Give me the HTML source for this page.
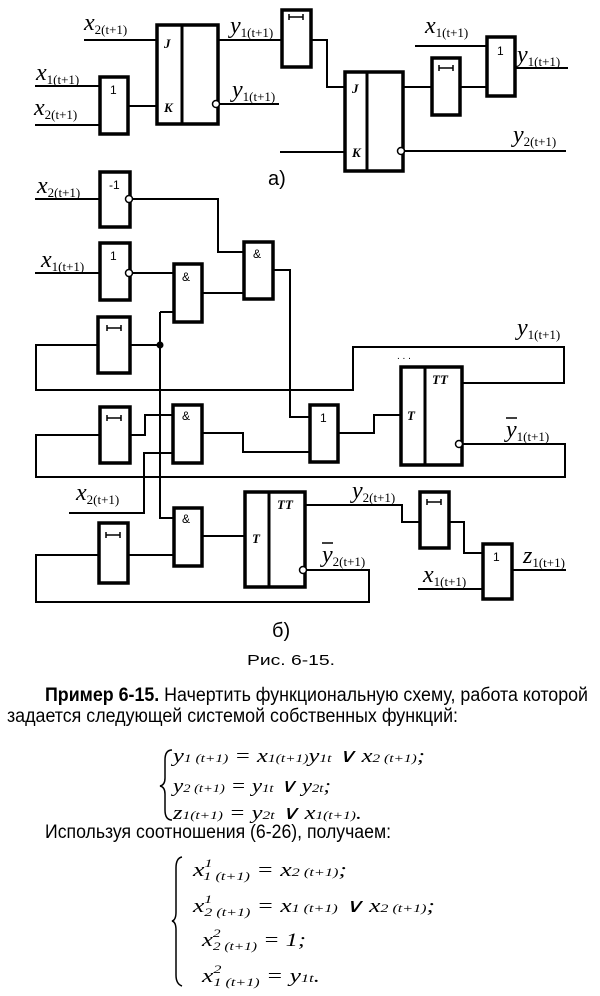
<!DOCTYPE html>
<html><head><meta charset="utf-8"><style>
html,body{margin:0;padding:0;background:#fff;}
svg{display:block}
.w{fill:none;stroke:#000;stroke-width:2}
.b{fill:#fff;stroke:#000;stroke-width:3.5}
.d{stroke:#000;stroke-width:2.5;fill:none}
.m{font-family:"Liberation Serif",serif;font-style:italic;font-size:24px}
.s{font-family:"Liberation Serif",serif;font-style:normal;font-size:13px}
.g{font-family:"Liberation Sans",sans-serif;font-size:12px}
.gi{font-family:"Liberation Serif",serif;font-style:italic;font-weight:bold;font-size:13px}
.t{font-family:"Liberation Sans",sans-serif;font-size:19px}
.e{font-family:"Liberation Serif",serif;font-style:italic;font-size:19px}
.es{font-family:"Liberation Serif",serif;font-style:italic;font-size:12px}
</style></head><body>
<svg width="600" height="996" viewBox="0 0 600 996" xmlns="http://www.w3.org/2000/svg">
<!-- ===== a) ===== -->
<path class="w" d="M84 40H157 M35 86H100 M35 125H100 M128 106H157 M218 40H282 M220 104H279 M311 40H327V87H345 M280 152H345 M405 151H566 M403 87H432 M460 87H487 M415 46H487 M515 68H568"/>
<rect class="b" x="157" y="25" width="61" height="99"/><line class="w" x1="182" y1="25" x2="182" y2="124" style="stroke-width:3"/>
<rect class="b" x="100" y="77" width="28" height="57"/>
<rect class="b" x="282" y="10" width="29" height="57"/>
<rect class="b" x="345" y="72" width="58" height="99"/><line class="w" x1="367" y1="72" x2="367" y2="171" style="stroke-width:3"/>
<rect class="b" x="432" y="58" width="28" height="57"/>
<rect class="b" x="487" y="37" width="28" height="59"/>
<circle cx="216" cy="104" r="3.5" fill="#fff" stroke="#000" stroke-width="1.5"/>
<circle cx="401" cy="151" r="3.5" fill="#fff" stroke="#000" stroke-width="1.5"/>
<text class="gi" x="164" y="48">J</text><text class="gi" x="164" y="112">K</text>
<text class="gi" x="352" y="93">J</text><text class="gi" x="352" y="157">K</text>
<text class="g" x="110" y="94">1</text><text class="g" x="497" y="55">1</text>
<path class="d" d="M289 17H303 M289 14V20 M303 14V20" style="stroke-width:1.5"/>
<path class="d" d="M439 68H453 M439 65V71 M453 65V71" style="stroke-width:1.5"/>
<text class="m" x="84" y="30">x<tspan class="s" dy="4">2(t+1)</tspan></text>
<text class="m" x="36" y="80">x<tspan class="s" dy="4">1(t+1)</tspan></text>
<text class="m" x="34" y="115">x<tspan class="s" dy="4">2(t+1)</tspan></text>
<text class="m" x="230" y="33">y<tspan class="s" dy="4">1(t+1)</tspan></text>
<text class="m" x="232" y="97">y<tspan class="s" dy="4">1(t+1)</tspan></text>
<text class="m" x="425" y="33">x<tspan class="s" dy="4">1(t+1)</tspan></text>
<text class="m" x="517" y="62">y<tspan class="s" dy="4">1(t+1)</tspan></text>
<text class="m" x="513" y="142">y<tspan class="s" dy="4">2(t+1)</tspan></text>
<text x="268" y="185" style="font-family:'Liberation Sans',sans-serif;font-size:20px">a)</text>
<!-- ===== б) ===== -->
<path class="w" d="M35 199H100 M132 199H218V252H244 M35 273H100 M132 273H174 M202 293H244 M273 270H290V417H310 M160 312H174 M130 345H160 M160 312V518H174 M100 345H36V390H353V347H564V383H462 M462 444H565V477H36V435H100 M130 435H145V415H173 M173 453H144V513H69 M202 433H243V452H310 M338 433H374V415H401 M99 555H36V602H369V570H306 M128 555H174 M202 536H245 M305 505H402V522H420 M449 522H464V553H483 M418 589H483 M512 570H566"/>
<rect class="b" x="100" y="172" width="30" height="55"/>
<rect class="b" x="100" y="243" width="30" height="57"/>
<rect class="b" x="174" y="264" width="28" height="58"/>
<rect class="b" x="244" y="242" width="29" height="57"/>
<rect class="b" x="98" y="317" width="32" height="56"/>
<rect class="b" x="401" y="367" width="61" height="98"/><line class="w" x1="425" y1="367" x2="425" y2="465" style="stroke-width:3"/>
<rect class="b" x="100" y="407" width="30" height="56"/>
<rect class="b" x="173" y="405" width="29" height="58"/>
<rect class="b" x="310" y="405" width="28" height="57"/>
<rect class="b" x="174" y="508" width="28" height="58"/>
<rect class="b" x="99" y="523" width="29" height="60"/>
<rect class="b" x="245" y="492" width="60" height="95"/><line class="w" x1="269" y1="492" x2="269" y2="587" style="stroke-width:3"/>
<rect class="b" x="420" y="492" width="29" height="56"/>
<rect class="b" x="483" y="544" width="29" height="55"/>
<circle cx="129" cy="199" r="3.5" fill="#fff" stroke="#000" stroke-width="1.5"/>
<circle cx="129" cy="273" r="3.5" fill="#fff" stroke="#000" stroke-width="1.5"/>
<circle cx="459" cy="444" r="3.5" fill="#fff" stroke="#000" stroke-width="1.5"/>
<circle cx="303" cy="570" r="3.5" fill="#fff" stroke="#000" stroke-width="1.5"/>
<circle cx="160" cy="345" r="3.5" fill="#000"/>
<text class="g" x="109" y="189">-1</text><text class="g" x="110" y="260">1</text>
<text class="g" x="182" y="281">&amp;</text><text class="g" x="253" y="258">&amp;</text>
<text class="g" x="182" y="420">&amp;</text><text class="g" x="320" y="422">1</text>
<text class="g" x="182" y="523">&amp;</text><text class="g" x="493" y="561">1</text>
<text class="gi" x="432" y="384">TT</text><text class="gi" x="407" y="420">T</text>
<text class="gi" x="277" y="509">TT</text><text class="gi" x="252" y="543">T</text>
<text x="397" y="359" style="font-size:10px;font-family:'Liberation Sans',sans-serif">. . .</text>
<path class="d" d="M107 328H121 M107 325V331 M121 325V331" style="stroke-width:1.5"/>
<path class="d" d="M107 418H121 M107 415V421 M121 415V421" style="stroke-width:1.5"/>
<path class="d" d="M106 535H120 M106 532V538 M120 532V538" style="stroke-width:1.5"/>
<path class="d" d="M427 502H441 M427 499V505 M441 499V505" style="stroke-width:1.5"/>
<text class="m" x="37" y="193">x<tspan class="s" dy="4">2(t+1)</tspan></text>
<text class="m" x="41" y="267">x<tspan class="s" dy="4">1(t+1)</tspan></text>
<text class="m" x="517" y="335">y<tspan class="s" dy="4">1(t+1)</tspan></text>
<text class="m" x="506" y="437">y<tspan class="s" dy="4">1(t+1)</tspan></text><line x1="506" y1="418" x2="517" y2="418" stroke="#000" stroke-width="1.5"/>
<text class="m" x="76" y="500">x<tspan class="s" dy="4">2(t+1)</tspan></text>
<text class="m" x="352" y="498">y<tspan class="s" dy="4">2(t+1)</tspan></text>
<text class="m" x="322" y="562">y<tspan class="s" dy="4">2(t+1)</tspan></text><line x1="322" y1="543" x2="333" y2="543" stroke="#000" stroke-width="1.5"/>
<text class="m" x="423" y="582">x<tspan class="s" dy="4">1(t+1)</tspan></text>
<text class="m" x="523" y="563">z<tspan class="s" dy="4">1(t+1)</tspan></text>
<text x="272" y="637" style="font-family:'Liberation Sans',sans-serif;font-size:20px">б)</text>
<text x="247" y="665" style="font-family:'Liberation Sans',sans-serif;font-size:15px" textLength="88" lengthAdjust="spacingAndGlyphs">Рис. 6-15.</text>
<!-- ===== text ===== -->
<text class="t" x="45" y="701" textLength="543" lengthAdjust="spacingAndGlyphs"><tspan font-weight="bold">Пример 6-15.</tspan> Начертить функциональную схему, работа которой</text>
<text class="t" x="7" y="722" textLength="451" lengthAdjust="spacingAndGlyphs">задается следующей системой собственных функций:</text>
<path d="M172 750 Q165 750 165 760 V778 Q165 785 160 786 Q165 787 165 794 V810 Q165 820 172 820" fill="none" stroke="#000" stroke-width="1.5"/>
<text class="e" x="173" y="762" textLength="252" lengthAdjust="spacingAndGlyphs">y<tspan class="es">1 (t+1)</tspan> = x<tspan class="es">1(t+1)</tspan>y<tspan class="es">1t</tspan> ∨ x<tspan class="es">2 (t+1)</tspan>;</text>
<text class="e" x="173" y="792" textLength="158" lengthAdjust="spacingAndGlyphs">y<tspan class="es">2 (t+1)</tspan> = y<tspan class="es">1t</tspan> ∨ y<tspan class="es">2t</tspan>;</text>
<text class="e" x="173" y="819" textLength="189" lengthAdjust="spacingAndGlyphs">z<tspan class="es">1(t+1)</tspan> = y<tspan class="es">2t</tspan> ∨ x<tspan class="es">1(t+1)</tspan>.</text>
<text class="t" x="45" y="838" textLength="346" lengthAdjust="spacingAndGlyphs">Используя соотношения (6-26), получаем:</text>
<path d="M182 857 Q176 858 176 868 V912 Q176 920 172 921 Q176 922 176 930 V975 Q176 984 182 986" fill="none" stroke="#000" stroke-width="1.5"/>
<text class="e" x="193" y="876" textLength="154" lengthAdjust="spacingAndGlyphs">x<tspan class="es" dy="-9">1</tspan><tspan class="es" dx="-6" dy="13">1 (t+1)</tspan><tspan dy="-4"> = x</tspan><tspan class="es">2 (t+1)</tspan>;</text>
<text class="e" x="193" y="912" textLength="242" lengthAdjust="spacingAndGlyphs">x<tspan class="es" dy="-9">1</tspan><tspan class="es" dx="-6" dy="13">2 (t+1)</tspan><tspan dy="-4"> = x</tspan><tspan class="es">1 (t+1)</tspan> ∨ x<tspan class="es">2 (t+1)</tspan>;</text>
<text class="e" x="202" y="946" textLength="104" lengthAdjust="spacingAndGlyphs">x<tspan class="es" dy="-9">2</tspan><tspan class="es" dx="-6" dy="13">2 (t+1)</tspan><tspan dy="-4"> = 1;</tspan></text>
<text class="e" x="202" y="982" textLength="118" lengthAdjust="spacingAndGlyphs">x<tspan class="es" dy="-9">2</tspan><tspan class="es" dx="-6" dy="13">1 (t+1)</tspan><tspan dy="-4"> = y</tspan><tspan class="es">1t</tspan>.</text>
</svg>
</body></html>
